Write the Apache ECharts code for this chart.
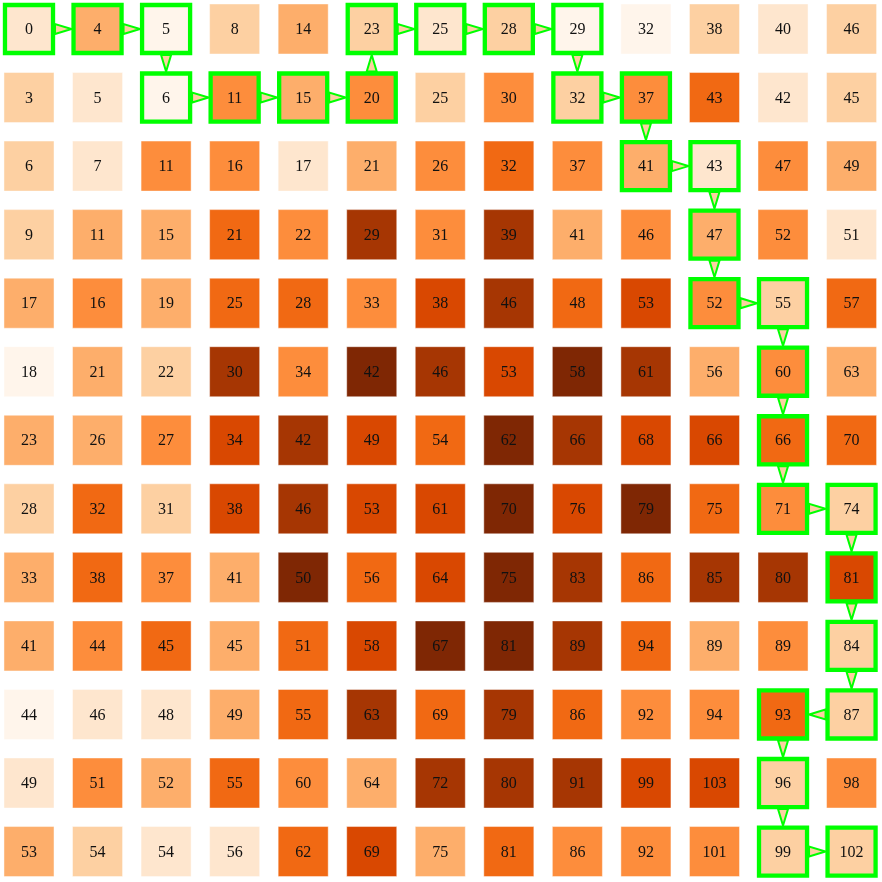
<!DOCTYPE html>
<html>
<head>
<meta charset="utf-8">
<script src="https://cdn.jsdelivr.net/npm/echarts@6/dist/echarts.min.js"></script>
<style>
  html, body { margin: 0; padding: 0; background: #fff; }
  #main { width: 882px; height: 882px; }
</style>
</head>
<body>
<div id="main"></div>
<script>
// shortest-path distances shown in each cell (row by row)
const values = [
  [0, 4, 5, 8, 14, 23, 25, 28, 29, 32, 38, 40, 46],
  [3, 5, 6, 11, 15, 20, 25, 30, 32, 37, 43, 42, 45],
  [6, 7, 11, 16, 17, 21, 26, 32, 37, 41, 43, 47, 49],
  [9, 11, 15, 21, 22, 29, 31, 39, 41, 46, 47, 52, 51],
  [17, 16, 19, 25, 28, 33, 38, 46, 48, 53, 52, 55, 57],
  [18, 21, 22, 30, 34, 42, 46, 53, 58, 61, 56, 60, 63],
  [23, 26, 27, 34, 42, 49, 54, 62, 66, 68, 66, 66, 70],
  [28, 32, 31, 38, 46, 53, 61, 70, 76, 79, 75, 71, 74],
  [33, 38, 37, 41, 50, 56, 64, 75, 83, 86, 85, 80, 81],
  [41, 44, 45, 45, 51, 58, 67, 81, 89, 94, 89, 89, 84],
  [44, 46, 48, 49, 55, 63, 69, 79, 86, 92, 94, 93, 87],
  [49, 51, 52, 55, 60, 64, 72, 80, 91, 99, 103, 96, 98],
  [53, 54, 54, 56, 62, 69, 75, 81, 86, 92, 101, 99, 102]
];

// cell cost (colour level 1..9)
const levels = [
  [2, 4, 1, 3, 4, 3, 2, 3, 1, 1, 3, 2, 3],
  [3, 2, 1, 5, 4, 5, 3, 5, 3, 5, 6, 2, 3],
  [3, 2, 5, 5, 2, 4, 5, 6, 5, 4, 2, 5, 4],
  [3, 4, 4, 6, 5, 8, 5, 8, 4, 5, 4, 5, 2],
  [4, 5, 4, 6, 6, 5, 7, 8, 6, 7, 5, 3, 6],
  [1, 4, 3, 8, 5, 9, 8, 7, 9, 8, 4, 5, 4],
  [4, 4, 5, 7, 8, 7, 6, 9, 8, 7, 7, 6, 6],
  [3, 6, 3, 7, 8, 7, 7, 9, 7, 9, 6, 5, 3],
  [4, 6, 5, 4, 9, 6, 7, 9, 8, 6, 8, 8, 7],
  [4, 5, 6, 4, 6, 7, 9, 9, 8, 6, 4, 5, 3],
  [1, 2, 2, 4, 6, 8, 6, 8, 6, 5, 5, 6, 3],
  [2, 5, 4, 6, 5, 4, 8, 8, 8, 7, 7, 3, 5],
  [4, 3, 2, 2, 6, 7, 4, 6, 5, 5, 5, 3, 3]
];

// path as [row, col]
const path = [
  [0, 0], [0, 1], [0, 2], [1, 2], [1, 3], [1, 4], [1, 5], [0, 5], [0, 6], [0, 7],
  [0, 8], [1, 8], [1, 9], [2, 9], [2, 10], [3, 10], [4, 10], [4, 11], [5, 11],
  [6, 11], [7, 11], [7, 12], [8, 12], [9, 12], [10, 12], [10, 11], [11, 11],
  [12, 11], [12, 12]
];

const ORANGES = ['#fff5eb', '#fee6ce', '#fdd0a2', '#fdae6b', '#fd8d3c',
                 '#f16913', '#d94801', '#a63603', '#7f2704'];

const onPath = {};
path.forEach(p => { onPath[p[0] + '_' + p[1]] = true; });

const cellData = [];
for (let r = 0; r < values.length; r++) {
  for (let c = 0; c < values[r].length; c++) {
    cellData.push([c, r, levels[r][c], values[r][c], onPath[r + '_' + c] ? 1 : 0]);
  }
}

const arrowData = [];
for (let i = 0; i + 1 < path.length; i++) {
  arrowData.push([path[i][1], path[i][0], path[i + 1][1], path[i + 1][0]]);
}

const chart = echarts.init(document.getElementById('main'), null, { renderer: 'canvas' });

function renderCell(params, api) {
  const p = api.coord([api.value(0), api.value(1)]);
  const unit = api.size([1, 1]);
  const s = unit[0] * 0.73;
  const children = [{
    type: 'rect',
    shape: { x: p[0] - s / 2, y: p[1] - s / 2, width: s, height: s },
    style: { fill: api.visual('color'), stroke: 'rgba(255,255,255,0.45)', lineWidth: 1 }
  }];
  if (api.value(4)) {
    const h = s - 2;
    children.push({
      type: 'rect',
      shape: { x: p[0] - h / 2, y: p[1] - h / 2, width: h, height: h },
      style: { fill: null, stroke: '#00ff00', lineWidth: 4.3 }
    });
  }
  children.push({
    type: 'text',
    style: {
      text: String(api.value(3)),
      x: p[0], y: p[1] + 1,
      align: 'center', verticalAlign: 'middle',
      fontFamily: 'Liberation Serif', fontSize: 16, fill: '#111'
    }
  });
  return { type: 'group', children: children };
}

function renderArrow(params, api) {
  const a = api.coord([api.value(0), api.value(1)]);
  const b = api.coord([api.value(2), api.value(3)]);
  const unit = api.size([1, 1]);
  const half = unit[0] * 0.73 / 2 + 1;
  const dx = b[0] - a[0], dy = b[1] - a[1];
  const len = Math.sqrt(dx * dx + dy * dy);
  const ux = dx / len, uy = dy / len;
  const nx = -uy, ny = ux;
  const bx = a[0] + ux * half, by = a[1] + uy * half;
  const tx = b[0] - ux * half, ty = b[1] - uy * half;
  const w = 5;
  return {
    type: 'polygon',
    shape: { points: [[bx + nx * w, by + ny * w], [tx, ty], [bx - nx * w, by - ny * w]] },
    style: { fill: '#fdd0a2', stroke: '#00ff00', lineWidth: 2, lineJoin: 'miter' }
  };
}

const option = {
  backgroundColor: '#ffffff',
  animation: false,
  grid: { left: 0, right: 0, top: 0, bottom: 0 },
  xAxis: { type: 'value', min: -0.423, max: 12.444, show: false },
  yAxis: { type: 'value', min: -0.423, max: 12.444, inverse: true, show: false },
  visualMap: {
    show: false,
    seriesIndex: 0,
    dimension: 2,
    min: 1,
    max: 9,
    inRange: { color: ORANGES }
  },
  series: [
    {
      type: 'custom',
      renderItem: renderCell,
      data: cellData,
      encode: { x: 0, y: 1 },
      z: 1
    },
    {
      type: 'custom',
      renderItem: renderArrow,
      data: arrowData,
      encode: { x: [0, 2], y: [1, 3] },
      z: 2
    }
  ]
};

chart.setOption(option);
</script>
</body>
</html>
